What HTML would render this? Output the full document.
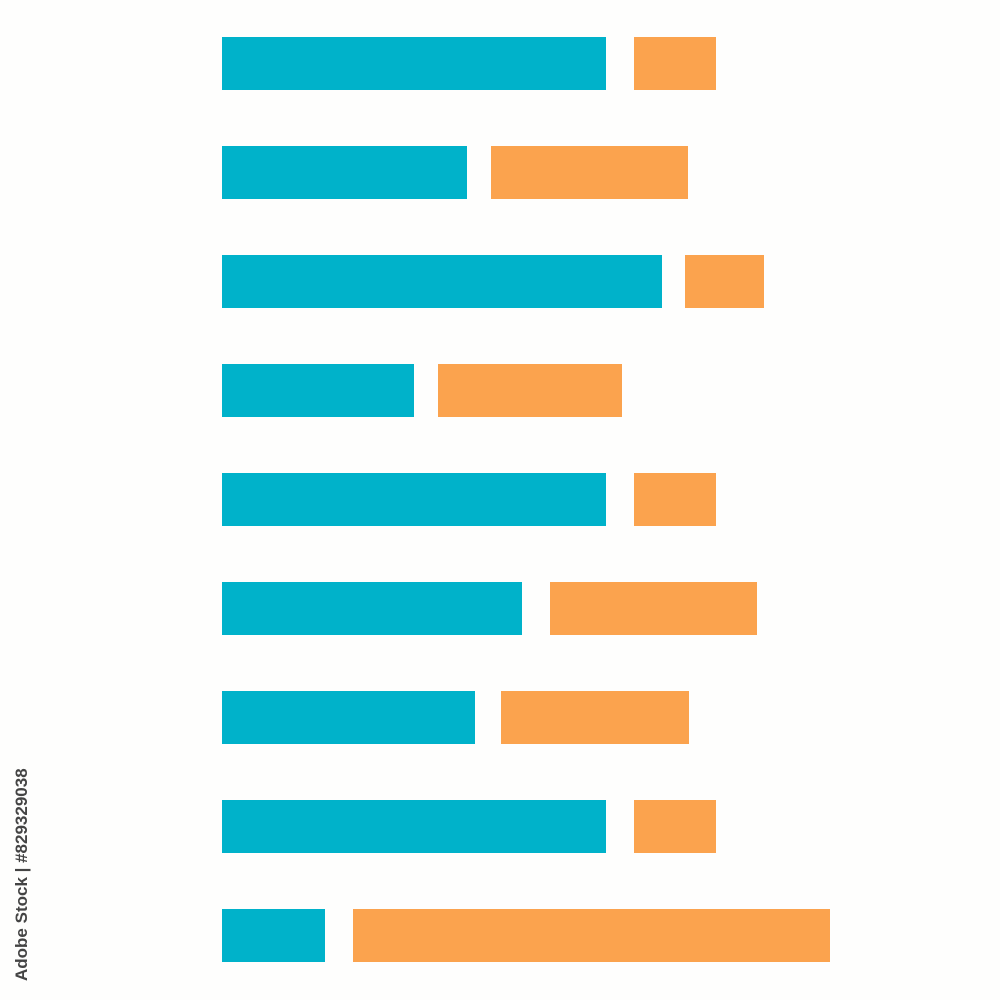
<!DOCTYPE html>
<html>
<head>
<meta charset="utf-8">
<style>
  html, body { margin: 0; padding: 0; background: #ffffff; }
  .wrap { position: relative; width: 1000px; height: 1000px; background: #fefefd; overflow: hidden; }
  .b { position: absolute; height: 53px; }
  .t { background: #00b2ca; }
  .o { background: #fba34e; }
  .wm {
    position: absolute;
    left: 12px; top: 981px;
    transform-origin: 0 0;
    transform: rotate(-90deg);
    font-family: "Liberation Sans", sans-serif;
    font-size: 17px;
    font-weight: bold;
    color: #444444;
    white-space: nowrap;
  }
</style>
</head>
<body>
<div class="wrap">
  <div class="b t" style="left:222px;top:37px;width:384px;"></div>
  <div class="b o" style="left:634px;top:37px;width:82px;"></div>

  <div class="b t" style="left:222px;top:146px;width:245px;"></div>
  <div class="b o" style="left:491px;top:146px;width:197px;"></div>

  <div class="b t" style="left:222px;top:255px;width:440px;"></div>
  <div class="b o" style="left:685px;top:255px;width:79px;"></div>

  <div class="b t" style="left:222px;top:364px;width:192px;"></div>
  <div class="b o" style="left:438px;top:364px;width:184px;"></div>

  <div class="b t" style="left:222px;top:473px;width:384px;"></div>
  <div class="b o" style="left:634px;top:473px;width:82px;"></div>

  <div class="b t" style="left:222px;top:582px;width:300px;"></div>
  <div class="b o" style="left:550px;top:582px;width:207px;"></div>

  <div class="b t" style="left:222px;top:691px;width:253px;"></div>
  <div class="b o" style="left:501px;top:691px;width:188px;"></div>

  <div class="b t" style="left:222px;top:800px;width:384px;"></div>
  <div class="b o" style="left:634px;top:800px;width:82px;"></div>

  <div class="b t" style="left:222px;top:909px;width:103px;"></div>
  <div class="b o" style="left:353px;top:909px;width:477px;"></div>

  <div class="wm">Adobe Stock | #829329038</div>
</div>
</body>
</html>
